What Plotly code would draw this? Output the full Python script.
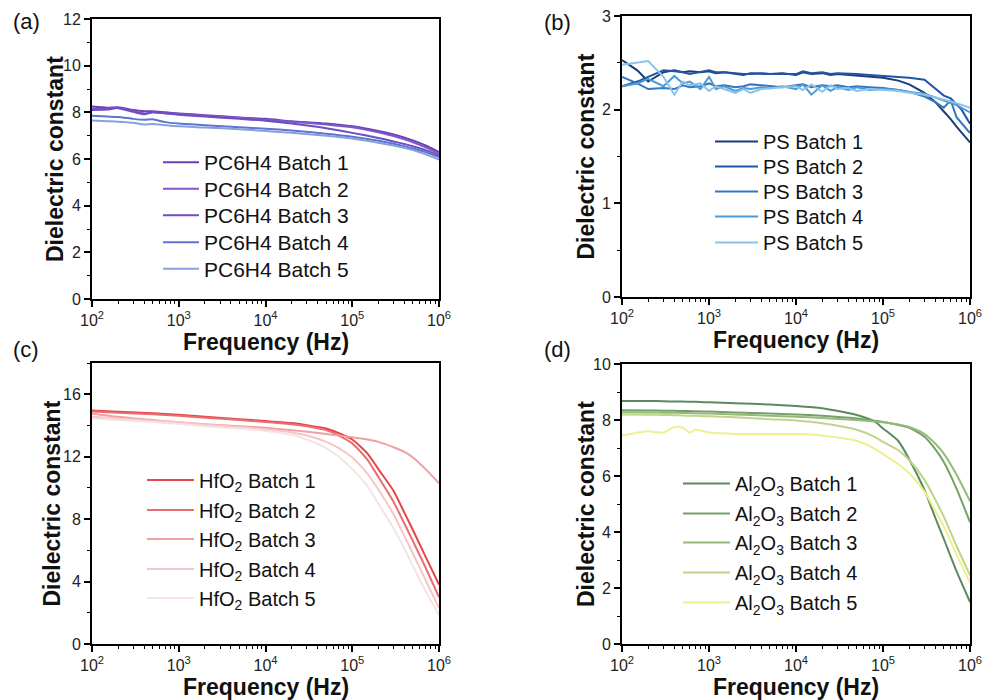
import plotly.graph_objects as go

# ---------------- data ----------------
freq_a = [100, 150, 200, 300, 400, 500, 700, 1e3, 2e3, 5e3, 1e4, 2e4, 5e4, 1e5, 2e5, 3e5, 5e5, 7e5, 1e6]
pc6h4 = {
    "PC6H4 Batch 1": [8.25, 8.20, 8.22, 8.10, 8.05, 8.05, 8.00, 7.95, 7.88, 7.78, 7.72, 7.62, 7.52, 7.40, 7.20, 7.05, 6.80, 6.58, 6.30],
    "PC6H4 Batch 2": [8.15, 8.15, 8.20, 8.05, 7.95, 8.00, 7.97, 7.93, 7.85, 7.76, 7.68, 7.60, 7.48, 7.36, 7.15, 6.98, 6.72, 6.50, 6.22],
    "PC6H4 Batch 3": [8.10, 8.12, 8.18, 8.02, 7.92, 8.00, 7.95, 7.90, 7.82, 7.72, 7.64, 7.52, 7.32, 7.12, 6.90, 6.75, 6.55, 6.38, 6.15],
    "PC6H4 Batch 4": [7.85, 7.82, 7.80, 7.72, 7.68, 7.70, 7.58, 7.52, 7.45, 7.36, 7.30, 7.22, 7.08, 6.95, 6.78, 6.65, 6.45, 6.30, 6.08],
    "PC6H4 Batch 5": [7.65, 7.62, 7.60, 7.55, 7.48, 7.50, 7.45, 7.40, 7.35, 7.28, 7.20, 7.12, 7.00, 6.88, 6.70, 6.58, 6.38, 6.20, 5.98],
}
colors_a = ["#6b3fb6", "#7e57c8", "#6f4cc4", "#5c75d1", "#87a0dc"]

freq_b = [100, 150, 200, 300, 400, 500, 600, 800, 1000, 1200, 1500, 2000, 2500, 3000, 4000, 5000, 7000,
          1e4, 1.2e4, 1.5e4, 2e4, 2.5e4, 3e4, 4e4, 5e4, 7e4, 1e5, 1.5e5, 2e5, 3e5, 4e5, 5e5, 6e5, 7e5, 8e5, 1e6]
ps = {
    "PS Batch 1": [2.53, 2.42, 2.30, 2.40, 2.42, 2.40, 2.41, 2.40, 2.41, 2.39, 2.40, 2.38, 2.37, 2.39, 2.38, 2.38, 2.39, 2.37,
                   2.40, 2.38, 2.39, 2.37, 2.38, 2.37, 2.36, 2.35, 2.34, 2.31, 2.27, 2.18, 2.08, 1.98, 1.90, 1.82, 1.76, 1.65],
    "PS Batch 2": [2.25, 2.30, 2.35, 2.42, 2.41, 2.40, 2.38, 2.40, 2.42, 2.40, 2.40, 2.39, 2.38, 2.38, 2.39, 2.38, 2.38, 2.38,
                   2.41, 2.39, 2.40, 2.38, 2.39, 2.38, 2.38, 2.37, 2.36, 2.35, 2.34, 2.32, 2.22, 2.15, 2.12, 2.06, 2.00, 1.85],
    "PS Batch 3": [2.35, 2.28, 2.22, 2.23, 2.22, 2.26, 2.24, 2.25, 2.28, 2.25, 2.26, 2.24, 2.25, 2.27, 2.26, 2.25, 2.24, 2.26,
                   2.27, 2.24, 2.26, 2.25, 2.26, 2.24, 2.25, 2.24, 2.23, 2.21, 2.19, 2.14, 2.08, 2.02, 2.10, 1.92, 1.86, 1.75],
    "PS Batch 4": [2.25, 2.28, 2.33, 2.25, 2.36, 2.28, 2.30, 2.22, 2.35, 2.22, 2.25, 2.20, 2.23, 2.22, 2.24, 2.23, 2.25, 2.22,
                   2.27, 2.16, 2.26, 2.20, 2.24, 2.21, 2.24, 2.21, 2.22, 2.21, 2.19, 2.17, 2.13, 2.10, 2.07, 2.05, 2.02, 1.97],
    "PS Batch 5": [2.48, 2.50, 2.52, 2.35, 2.16, 2.30, 2.26, 2.28, 2.20, 2.25, 2.22, 2.18, 2.22, 2.18, 2.22, 2.23, 2.24, 2.25,
                   2.21, 2.27, 2.19, 2.26, 2.22, 2.23, 2.20, 2.22, 2.21, 2.20, 2.18, 2.16, 2.13, 2.11, 2.09, 2.07, 2.05, 2.02],
}
colors_b = ["#1c3c78", "#1e56a3", "#3178c1", "#4d9ad6", "#8cc4e8"]

freq_c = [100, 200, 500, 1e3, 2e3, 5e3, 1e4, 2e4, 3e4, 5e4, 7e4, 1e5, 1.5e5, 2e5, 3e5, 4e5, 5e5, 7e5, 1e6]
hfo2 = {
    "HfO<sub>2</sub> Batch 1": [14.96, 14.88, 14.78, 14.68, 14.55, 14.40, 14.28, 14.15, 14.02, 13.80, 13.50, 13.10, 12.20, 11.20, 9.80, 8.40, 7.30, 5.60, 3.80],
    "HfO<sub>2</sub> Batch 2": [14.90, 14.82, 14.72, 14.62, 14.50, 14.35, 14.22, 14.08, 13.95, 13.70, 13.35, 12.85, 11.80, 10.70, 9.10, 7.70, 6.60, 4.90, 3.00],
    "HfO<sub>2</sub> Batch 3": [14.75, 14.55, 14.35, 14.20, 14.08, 13.95, 13.85, 13.70, 13.60, 13.45, 13.35, 13.25, 13.10, 12.95, 12.60, 12.30, 11.95, 11.20, 10.30],
    "HfO<sub>2</sub> Batch 4": [14.55, 14.45, 14.30, 14.20, 14.05, 13.90, 13.75, 13.55, 13.35, 12.95, 12.55, 11.95, 10.90, 9.90, 8.30, 6.90, 5.80, 4.10, 2.30],
    "HfO<sub>2</sub> Batch 5": [14.45, 14.35, 14.22, 14.10, 13.95, 13.80, 13.65, 13.40, 13.10, 12.55, 12.00, 11.20, 10.10, 9.00, 7.40, 6.10, 5.00, 3.40, 1.85],
}
colors_c = ["#e2474d", "#ea6e70", "#f29fa0", "#f6c5c8", "#f5e3e6"]

freq_d = [100, 200, 300, 400, 500, 600, 700, 1e3, 2e3, 5e3, 1e4, 2e4, 5e4, 8e4, 1e5, 1.5e5, 2e5, 3e5, 4e5, 5e5, 7e5, 1e6]
al2o3 = {
    "Al<sub>2</sub>O<sub>3</sub> Batch 1": [8.68, 8.68, 8.67, 8.66, 8.66, 8.65, 8.65, 8.63, 8.60, 8.55, 8.50, 8.42, 8.18, 7.95, 7.70, 7.25, 6.60, 5.50, 4.50, 3.75, 2.60, 1.50],
    "Al<sub>2</sub>O<sub>3</sub> Batch 2": [8.35, 8.34, 8.33, 8.33, 8.32, 8.32, 8.31, 8.30, 8.27, 8.23, 8.20, 8.15, 8.05, 7.97, 7.93, 7.82, 7.72, 7.40, 6.95, 6.50, 5.55, 4.35],
    "Al<sub>2</sub>O<sub>3</sub> Batch 3": [8.28, 8.27, 8.26, 8.26, 8.25, 8.25, 8.24, 8.23, 8.20, 8.15, 8.12, 8.07, 8.00, 7.95, 7.92, 7.84, 7.75, 7.50, 7.15, 6.80, 6.05, 5.10],
    "Al<sub>2</sub>O<sub>3</sub> Batch 4": [8.20, 8.19, 8.18, 8.17, 8.16, 8.15, 8.15, 8.13, 8.10, 8.03, 7.98, 7.88, 7.65, 7.40, 7.22, 6.92, 6.57, 5.86, 5.15, 4.55, 3.50, 2.45],
    "Al<sub>2</sub>O<sub>3</sub> Batch 5": [7.45, 7.60, 7.55, 7.75, 7.72, 7.55, 7.65, 7.55, 7.50, 7.50, 7.50, 7.45, 7.25, 6.98, 6.78, 6.42, 6.10, 5.44, 4.75, 4.20, 3.20, 2.20],
}
colors_d = ["#5a8a5e", "#74a266", "#95b97a", "#bfd58b", "#eef08f"]

x_ticks = [1e2, 1e3, 1e4, 1e5, 1e6]
x_tick_text = ["10<sup>2</sup>", "10<sup>3</sup>", "10<sup>4</sup>", "10<sup>5</sup>", "10<sup>6</sup>"]

# ---------------- figure ----------------
FONT = "Liberation Sans, Arial, sans-serif"
W, H = 986, 700

fig = go.Figure()

# box = plotting area in pixels (left, right, top, bottom);
# legend_tops = top edge of each legend entry, one legend per trace
panels = [
    dict(name="a", data=pc6h4, freq=freq_a, colors=colors_a, box=(92, 439, 19, 299),
         yrange=[0, 12], ytick=2, yminor=1, shape="spline", ytitle_off=37,
         legend_x=158, legend_tops=[142, 168.5, 195, 222, 248.5], lfont=21, itemw=36),
    dict(name="b", data=ps, freq=freq_b, colors=colors_b, box=(622, 970, 16, 297),
         yrange=[0, 3], ytick=1, yminor=0.5, shape="linear", ytitle_off=36,
         legend_x=710, legend_tops=[122, 147, 172, 197, 223], lfont=20, itemw=43),
    dict(name="c", data=hfo2, freq=freq_c, colors=colors_c, box=(92, 439, 363, 644),
         yrange=[0, 18], ytick=4, yminor=2, shape="spline", ytitle_off=41,
         legend_x=142, legend_tops=[460.5, 490.5, 519.5, 549.5, 578.5], lfont=20, itemw=47),
    dict(name="d", data=al2o3, freq=freq_d, colors=colors_d, box=(622, 970, 364, 644),
         yrange=[0, 10], ytick=2, yminor=1, shape="spline", ytitle_off=36,
         legend_x=678, legend_tops=[464, 494, 523, 553, 583], lfont=20, itemw=47),
]

minor_x = [k * 10 ** e for e in range(2, 6) for k in range(2, 10)]

legend_no = 0
for i, p in enumerate(panels):
    idx = "" if i == 0 else str(i + 1)
    xa, ya = "x" + idx, "y" + idx
    for (label, vals), col, ltop in zip(p["data"].items(), p["colors"], p["legend_tops"]):
        legend_no += 1
        lg = "legend" if legend_no == 1 else "legend" + str(legend_no)
        fig.add_trace(go.Scatter(
            x=p["freq"], y=vals, mode="lines", name=label,
            line=dict(color=col, width=2, shape=p["shape"], smoothing=0.6),
            xaxis=xa, yaxis=ya, legend=lg,
        ))
        fig.layout[lg] = dict(
            x=p["legend_x"] / W, y=1 - ltop / H, xanchor="left", yanchor="top",
            xref="paper", yref="paper",
            bgcolor="rgba(0,0,0,0)", borderwidth=0,
            font=dict(family=FONT, size=p["lfont"], color="#111"),
            itemwidth=p["itemw"],
        )

    x0, x1, y0, y1 = p["box"]
    dom_x = [x0 / W, x1 / W]
    dom_y = [1 - y1 / H, 1 - y0 / H]
    common = dict(showline=True, linecolor="black", linewidth=2, mirror=True,
                  ticks="outside", ticklen=6, tickwidth=1.5, tickcolor="black",
                  showgrid=False, zeroline=False, automargin=False,
                  tickfont=dict(family=FONT, size=16, color="#222"))
    fig.layout["xaxis" + idx] = dict(
        common, type="log", domain=dom_x, range=[2, 6], anchor=ya,
        tickvals=x_ticks, ticktext=x_tick_text,
        minor=dict(tickvals=minor_x, ticks="outside", ticklen=3, tickwidth=1.2, tickcolor="black"),
    )
    fig.layout["yaxis" + idx] = dict(
        common, domain=dom_y, range=p["yrange"], anchor=xa,
        tickmode="linear", tick0=0, dtick=p["ytick"],
        minor=dict(tick0=0, dtick=p["yminor"], ticks="outside", ticklen=3, tickwidth=1.2, tickcolor="black"),
    )

    # axis titles
    cx = (x0 + x1) / 2
    cy = (y0 + y1) / 2
    fig.add_annotation(text="<b>Frequency (Hz)</b>", x=cx / W, y=1 - (y1 + 43) / H,
                       xref="paper", yref="paper", showarrow=False,
                       font=dict(family=FONT, size=23, color="#111"),
                       xanchor="center", yanchor="middle")
    fig.add_annotation(text="<b>Dielectric constant</b>", x=(x0 - p["ytitle_off"]) / W, y=1 - cy / H,
                       xref="paper", yref="paper", showarrow=False, textangle=-90,
                       font=dict(family=FONT, size=23, color="#111"),
                       xanchor="center", yanchor="middle")

# panel letters
label_pos = {"a": (26, 21), "b": (557, 23), "c": (26, 349), "d": (557, 349)}
for name, (px, py) in label_pos.items():
    fig.add_annotation(text="(" + name + ")", x=px / W, y=1 - py / H,
                       xref="paper", yref="paper", showarrow=False,
                       font=dict(family=FONT, size=22, color="#111"),
                       xanchor="center", yanchor="middle")

fig.update_layout(
    width=W, height=H, margin=dict(l=0, r=0, t=0, b=0),
    paper_bgcolor="white", plot_bgcolor="white",
    showlegend=True,
)

fig.write_html("out.html")
